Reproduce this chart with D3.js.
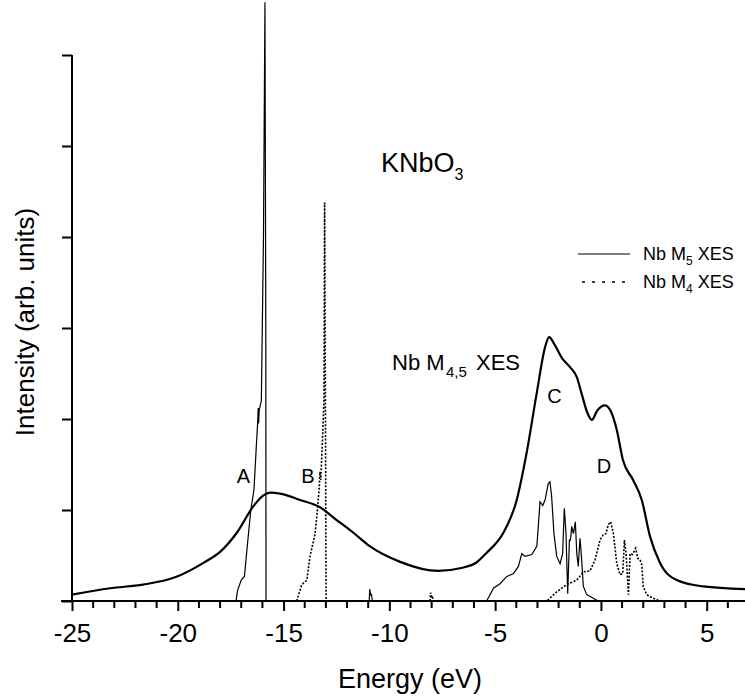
<!DOCTYPE html>
<html>
<head>
<meta charset="utf-8">
<script src="https://cdn.jsdelivr.net/npm/d3@7/dist/d3.min.js"></script>
<style>
  html, body { margin: 0; padding: 0; background: #fff; }
  svg { display: block; font-family: "Liberation Sans", Arial, sans-serif; }
</style>
</head>
<body>
<svg id="chart" width="745" height="699"></svg>
<script>
// ---- Data (energy in eV, intensity in arb. units) ----
const broadE = [-25, -23.2, -21.64, -20.13, -18.71, -18.0, -17.21, -16.43, -15.95, -15.64, -15.17, -14.22, -13.28, -12.49, -11.7, -10.91, -9.49, -7.7, -6.66, -5.9, -5.4, -4.61, -3.98, -3.51, -3.03, -2.64, -2.45, -2.17, -1.84, -1.46, -1.14, -0.89, -0.66, -0.43, -0.18, 0.19, 0.48, 0.75, 1.04, 1.52, 1.93, 2.32, 2.79, 3.58, 4.83, 6.81];
const broadI = [0.07, 0.14, 0.18, 0.26, 0.43, 0.54, 0.75, 1.04, 1.16, 1.19, 1.18, 1.11, 1.03, 0.89, 0.75, 0.6, 0.43, 0.33, 0.36, 0.42, 0.53, 0.75, 1.11, 1.63, 2.29, 2.79, 2.9, 2.81, 2.67, 2.57, 2.46, 2.26, 2.08, 1.99, 2.09, 2.15, 2.08, 1.88, 1.55, 1.33, 1.11, 0.71, 0.42, 0.23, 0.16, 0.13];

const m5E = [-17.25, -17.17, -17.0, -16.85, -16.7, -16.55, -16.4, -16.3, -16.22, -16.2, -16.18, -16.15, -16.05, -15.95, -15.88, -15.84, -15.83,
             -10.95, -10.93, -10.88, -10.85, -10.8,
             -5.4, -5.08, -4.77, -4.45, -4.14, -3.9, -3.74, -3.59, -3.27, -3.03, -2.96, -2.88, -2.75, -2.64, -2.49, -2.41, -2.33, -2.22, -2.09, -1.93, -1.81, -1.73, -1.65, -1.57, -1.49, -1.44, -1.38, -1.3, -1.21, -1.14, -1.07, -0.99, -0.93, -0.83, -0.67, -0.28, -0.12];
const m5I = [0, 0.12, 0.23, 0.27, 0.64, 1.0, 1.22, 1.65, 1.98, 2.12, 1.95, 2.1, 2.2, 4.0, 6.58, 3.0, 0,
             0, 0.13, 0.06, 0.08, 0,
             0, 0.14, 0.19, 0.27, 0.3, 0.38, 0.52, 0.49, 0.51, 0.6, 0.82, 1.09, 1.05, 1.11, 1.29, 1.31, 1.15, 0.74, 0.49, 0.41, 0.52, 1.02, 0.74, 0.08, 0.67, 0.67, 0.82, 0.74, 0.87, 0.52, 0.38, 0.69, 0.52, 0.16, 0.07, 0.02, 0];

const m4E = [-14.38, -14.14, -13.9, -13.75, -13.51, -13.4, -13.31, -13.28, -13.24, -13.15, -13.09, -13.06, -13.02, -12.99,
             -8.08, -8.05, -8.0, -7.97, -7.93,
             -2.56, -2.09, -1.62, -1.14, -0.83, -0.52, -0.28, -0.04, 0.11, 0.24, 0.35, 0.46, 0.59, 0.75, 0.9, 1.03, 1.11, 1.19, 1.3, 1.38, 1.49, 1.64, 1.74, 1.85, 1.93, 2.0, 2.16, 2.48, 2.79];
const m4I = [0, 0.18, 0.23, 0.49, 0.74, 1.0, 1.26, 1.42, 1.33, 1.84, 2.21, 4.38, 2.0, 0,
             0, 0.09, 0.05, 0.06, 0,
             0, 0.1, 0.18, 0.23, 0.32, 0.33, 0.45, 0.67, 0.73, 0.74, 0.84, 0.87, 0.74, 0.41, 0.29, 0.3, 0.67, 0.52, 0.07, 0.52, 0.51, 0.58, 0.47, 0.45, 0.4, 0.16, 0.07, 0.03, 0];

const xMajorTicks = [-25, -20, -15, -10, -5, 0, 5];
const xMinorTicks = [-24, -23, -22, -21, -19, -18, -17, -16, -14, -13, -12, -11, -9, -8, -7, -6, -4, -3, -2, -1, 1, 2, 3, 4, 6];
const yMajorTicks = [0, 1, 2, 3, 4, 5, 6];
const peakLabels = ["A", "B", "C", "D"];
const peakLabelE = [-16.9, -13.85, -2.2, 0.15];
const peakLabelI = [1.3, 1.3, 2.18, 1.41];

// ---- Layout ----
const svg = d3.select("#chart");
const x = d3.scaleLinear().domain([-25, 6.81]).range([72, 745]);
const y = d3.scaleLinear().domain([0, 6]).range([601, 55]);
const font = "Liberation Sans, Arial, sans-serif";

// Major axes
const xAxisMajor = d3.axisBottom(x).tickValues(xMajorTicks).tickSize(10).tickPadding(13)
  .tickFormat(d => d < 0 ? "-" + Math.abs(d) : String(d));
const yAxis = d3.axisLeft(y).tickValues(yMajorTicks).tickSize(10).tickFormat(() => "");

const gx = svg.append("g").attr("transform", "translate(0,601)").call(xAxisMajor);
const gy = svg.append("g").attr("transform", "translate(72,0)").call(yAxis);
[gx, gy].forEach(g => {
  g.select(".domain").remove();
  g.selectAll(".tick line").attr("stroke", "#000").attr("stroke-width", 2);
});
gx.selectAll(".tick text").attr("font-family", font).attr("font-size", 26).attr("fill", "#000");

// Minor x ticks
const minorPath = xMinorTicks.map(d => "M" + x(d) + ",601V608").join("");
svg.append("path").attr("class", "minor-ticks").attr("d", minorPath)
  .attr("fill", "none").attr("stroke", "#000").attr("stroke-width", 2);

// axis lines
svg.append("line").attr("x1", 61).attr("x2", 745).attr("y1", 601).attr("y2", 601)
  .attr("stroke", "#000").attr("stroke-width", 2);
svg.append("line").attr("x1", 72).attr("x2", 72).attr("y1", y(6)).attr("y2", 601)
  .attr("stroke", "#000").attr("stroke-width", 2);

// Axis titles
svg.append("text").attr("x", 410).attr("y", 688).attr("text-anchor", "middle")
  .attr("font-family", font).attr("font-size", 27).text("Energy (eV)");
svg.append("text").attr("transform", "translate(34,322) rotate(-90)").attr("text-anchor", "middle")
  .attr("font-family", font).attr("font-size", 26).text("Intensity (arb. units)");

// Curves
const broad = broadE.map((e, i) => [e, broadI[i]]);
const m5 = m5E.map((e, i) => [e, m5I[i]]);
const m4 = m4E.map((e, i) => [e, m4I[i]]);
const smooth = d3.line().x(d => x(d[0])).y(d => y(d[1])).curve(d3.curveMonotoneX);
const straight = d3.line().x(d => x(d[0])).y(d => y(d[1]));

svg.append("path").attr("d", smooth(broad))
  .attr("fill", "none").attr("stroke", "#000").attr("stroke-width", 2.2);
svg.append("path").attr("d", straight(m5))
  .attr("fill", "none").attr("stroke", "#000").attr("stroke-width", 1.2);
svg.append("path").attr("d", straight(m4))
  .attr("fill", "none").attr("stroke", "#000").attr("stroke-width", 1.6)
  .attr("stroke-dasharray", "2,1.6");

// Peak labels
svg.selectAll("text.peak").data(peakLabels).enter().append("text").attr("class", "peak")
  .attr("x", (d, i) => x(peakLabelE[i])).attr("y", (d, i) => y(peakLabelI[i]))
  .attr("text-anchor", "middle").attr("font-family", font).attr("font-size", 20).text(d => d);

// Compound title
const t1 = svg.append("text").attr("x", 381).attr("y", 172).attr("font-family", font).attr("font-size", 27);
t1.append("tspan").text("KNbO");
t1.append("tspan").attr("dy", 8).attr("font-size", 16).text("3");

// Nb M4,5 XES label
const t2 = svg.append("text").attr("y", 370).attr("font-family", font).attr("font-size", 22);
t2.append("tspan").attr("x", 392).text("Nb M");
t2.append("tspan").attr("x", 446).attr("dy", 7).attr("font-size", 15).text("4,5");
t2.append("tspan").attr("x", 476).attr("dy", -7).text("XES");

// Legend
svg.append("line").attr("x1", 578).attr("x2", 630).attr("y1", 254).attr("y2", 254)
  .attr("stroke", "#000").attr("stroke-width", 1.2);
svg.append("line").attr("x1", 582).attr("x2", 630).attr("y1", 282).attr("y2", 282)
  .attr("stroke", "#000").attr("stroke-width", 1.6).attr("stroke-dasharray", "3,7");
const l1 = svg.append("text").attr("x", 643).attr("y", 260).attr("font-family", font).attr("font-size", 18);
l1.append("tspan").text("Nb M");
l1.append("tspan").attr("dy", 5).attr("font-size", 12).text("5");
l1.append("tspan").attr("dy", -5).text(" XES");
const l2 = svg.append("text").attr("x", 643).attr("y", 288).attr("font-family", font).attr("font-size", 18);
l2.append("tspan").text("Nb M");
l2.append("tspan").attr("dy", 5).attr("font-size", 12).text("4");
l2.append("tspan").attr("dy", -5).text(" XES");
</script>
</body>
</html>
